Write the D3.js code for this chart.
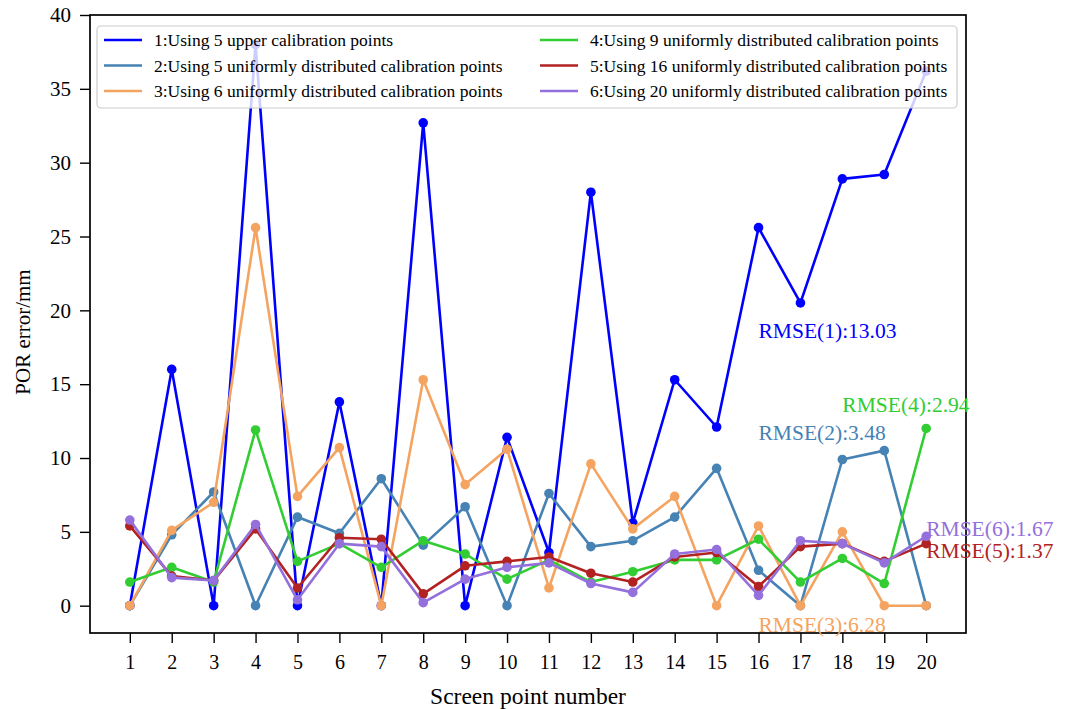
<!DOCTYPE html>
<html>
<head>
<meta charset="utf-8">
<title>POR error</title>
<script src="https://cdn.jsdelivr.net/npm/d3@7"></script>
<style>
  body { margin: 0; background: #fff; }
  svg text { font-family: "Liberation Serif", "Times New Roman", serif; }
  .axis path, .axis line { stroke: #000; }
</style>
</head>
<body>
<script>
// screen point numbers
var points = d3.range(1, 21);

// series values (POR error in mm)
var s1 = [0, 16.0, 0, 38.0, 0, 13.8, 0, 32.7, 0, 11.4, 3.6, 28.0, 5.6, 15.3, 12.1, 25.6, 20.5, 28.9, 29.2, 36.2];
var s2 = [0, 4.8, 7.7, 0, 6.0, 4.9, 8.6, 4.1, 6.7, 0, 7.6, 4.0, 4.4, 6.0, 9.3, 2.4, 0, 9.9, 10.5, 0];
var s3 = [0, 5.1, 7.0, 25.6, 7.4, 10.7, 0, 15.3, 8.2, 10.6, 1.2, 9.6, 5.2, 7.4, 0, 5.4, 0, 5.0, 0, 0];
var s4 = [1.6, 2.6, 1.6, 11.9, 3.0, 4.2, 2.6, 4.4, 3.5, 1.8, 3.1, 1.6, 2.3, 3.1, 3.1, 4.5, 1.6, 3.2, 1.5, 12.0];
var s5 = [5.4, 2.0, 1.7, 5.2, 1.2, 4.6, 4.5, 0.8, 2.7, 3.0, 3.3, 2.2, 1.6, 3.3, 3.6, 1.3, 4.0, 4.2, 3.0, 4.2];
var s6 = [5.8, 1.9, 1.7, 5.5, 0.4, 4.2, 4.0, 0.2, 1.8, 2.6, 2.9, 1.5, 0.9, 3.5, 3.8, 0.7, 4.4, 4.2, 2.9, 4.7];

var seriesNames = [
  "1:Using 5 upper calibration points",
  "2:Using 5 uniformly distributed calibration points",
  "3:Using 6 uniformly distributed calibration points",
  "4:Using 9 uniformly distributed calibration points",
  "5:Using 16 uniformly distributed calibration points",
  "6:Using 20 uniformly distributed calibration points"
];
var colors = ["#0000ff", "#4682b4", "#f4a460", "#32cd32", "#b22222", "#9370db"];
var allSeries = [s1, s2, s3, s4, s5, s6];

var yTicks = [0, 5, 10, 15, 20, 25, 30, 35, 40];

// RMSE labels: text, anchor point in data units
var rmseText = ["RMSE(1):13.03", "RMSE(2):3.48", "RMSE(3):6.28", "RMSE(4):2.94", "RMSE(5):1.37", "RMSE(6):1.67"];
var rmseX = [16, 16, 16, 18, 20, 20];
var rmseY = [18.1, 11.2, -1.76, 13.1, 3.2, 4.75];

var width = 1067, height = 709;
var plotL = 90, plotR = 966, plotT = 15, plotB = 633;

var svg = d3.select("body").append("svg")
  .attr("width", width).attr("height", height);

var x = d3.scaleLinear().domain([0.05, 20.95]).range([plotL, plotR]);
var y = d3.scaleLinear().domain([-1.85, 40]).range([plotB, plotT]);

// axes
svg.append("g")
  .attr("class", "axis")
  .attr("transform", "translate(0," + plotB + ")")
  .call(d3.axisBottom(x).tickValues(points).tickSize(10).tickPadding(12).tickSizeOuter(0))
  .call(g => g.select(".domain").remove())
  .call(g => g.selectAll("line").attr("stroke-width", 1.4))
  .call(g => g.selectAll("text").attr("font-size", 20).attr("fill", "#000")
    .style("font-family", "Liberation Serif"));

svg.append("g")
  .attr("class", "axis")
  .attr("transform", "translate(" + plotL + ",0)")
  .call(d3.axisLeft(y).tickValues(yTicks).tickSize(10).tickPadding(9).tickSizeOuter(0))
  .call(g => g.select(".domain").remove())
  .call(g => g.selectAll("line").attr("stroke-width", 1.4))
  .call(g => g.selectAll("text").attr("font-size", 21).attr("fill", "#000")
    .style("font-family", "Liberation Serif"));

// lines + markers
var line = d3.line().x((d, i) => x(points[i])).y(d => y(d));

allSeries.forEach(function (s, k) {
  var g = svg.append("g");
  g.append("path")
    .datum(s)
    .attr("d", line)
    .attr("fill", "none")
    .attr("stroke", colors[k])
    .attr("stroke-width", 2.6)
    .attr("stroke-linejoin", "round");
  g.selectAll("circle")
    .data(s)
    .enter()
    .append("circle")
    .attr("cx", (d, i) => x(points[i]))
    .attr("cy", d => y(d))
    .attr("r", 4.8)
    .attr("fill", colors[k]);
});

// frame
svg.append("rect")
  .attr("x", plotL).attr("y", plotT)
  .attr("width", plotR - plotL).attr("height", plotB - plotT)
  .attr("fill", "none").attr("stroke", "#000").attr("stroke-width", 1.7);

// RMSE annotations
svg.selectAll(".rmse")
  .data(rmseText)
  .enter()
  .append("text")
  .attr("class", "rmse")
  .attr("x", (d, i) => x(rmseX[i]))
  .attr("y", (d, i) => y(rmseY[i]))
  .attr("font-size", 21.5)
  .attr("fill", (d, i) => colors[i])
  .text(d => d);

// legend
var legend = svg.append("g");
legend.append("rect")
  .attr("x", 97).attr("y", 26).attr("width", 860).attr("height", 82)
  .attr("rx", 4)
  .attr("fill", "#fff").attr("fill-opacity", 0.8)
  .attr("stroke", "#cccccc").attr("stroke-width", 1.2);

seriesNames.forEach(function (name, k) {
  var col = Math.floor(k / 3), row = k % 3;
  var lx = col === 0 ? 104 : 540;
  var ly = 40 + row * 25.5;
  legend.append("line")
    .attr("x1", lx).attr("x2", lx + 38)
    .attr("y1", ly).attr("y2", ly)
    .attr("stroke", colors[k]).attr("stroke-width", 2.6);
  legend.append("text")
    .attr("x", lx + 50).attr("y", ly + 6)
    .attr("font-size", 17.5)
    .attr("fill", "#000")
    .text(name);
});

// axis titles
svg.append("text")
  .attr("x", (plotL + plotR) / 2).attr("y", 704)
  .attr("text-anchor", "middle")
  .attr("font-size", 23.5)
  .text("Screen point number");

svg.append("text")
  .attr("transform", "translate(30,332) rotate(-90)")
  .attr("text-anchor", "middle")
  .attr("font-size", 21)
  .text("POR error/mm");
</script>
</body>
</html>
